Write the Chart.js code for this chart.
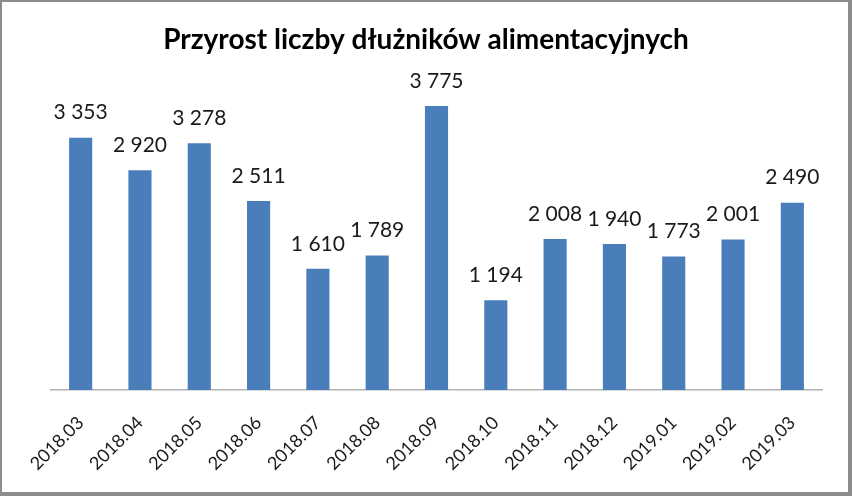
<!DOCTYPE html>
<html>
<head>
<meta charset="utf-8">
<script src="https://cdn.jsdelivr.net/npm/chart.js@4"></script>
<style>
  html, body { margin: 0; padding: 0; background: #fff; }
  #wrap { position: relative; width: 852px; height: 496px; }
  #c { position: absolute; left: 0; top: 0; }
  #frame { position: absolute; left: 0; top: 0; width: 852px; height: 496px; box-sizing: border-box;
           border-style: solid; border-color: #8c8c8c; border-width: 2px 4px 4px 2px; pointer-events: none; }
</style>
</head>
<body>
<div id="wrap">
  <canvas id="c" width="852" height="496"></canvas>
  <div id="frame"></div>
</div>
<script>
const categories = ["2018.03","2018.04","2018.05","2018.06","2018.07","2018.08","2018.09","2018.10","2018.11","2018.12","2019.01","2019.02","2019.03"];
const values = [3353, 2920, 3278, 2511, 1610, 1789, 3775, 1194, 2008, 1940, 1773, 2001, 2490];
const titleText = "Przyrost liczby dłużników alimentacyjnych";

function fmt(v) {
  return String(v).replace(/\B(?=(\d{3})+(?!\d))/g, " ");
}

const valueLabels = {
  id: 'valueLabels',
  afterDatasetsDraw(chart) {
    const ctx = chart.ctx;
    const meta = chart.getDatasetMeta(0);
    ctx.save();
    ctx.font = '21px Lato';
    ctx.fillStyle = '#1a1a1a';
    ctx.textAlign = 'center';
    ctx.textBaseline = 'middle';
    meta.data.forEach((bar, i) => {
      ctx.fillText(fmt(values[i]), bar.x, bar.y - 25);
    });
    ctx.restore();
  }
};

const chartTitle = {
  id: 'chartTitle',
  afterDraw(chart) {
    const ctx = chart.ctx;
    ctx.save();
    ctx.font = 'bold 28px Lato';
    ctx.fillStyle = '#000';
    ctx.textAlign = 'center';
    ctx.textBaseline = 'alphabetic';
    ctx.fillText(titleText, chart.width / 2, 49);
    ctx.restore();
  }
};

new Chart(document.getElementById('c'), {
  type: 'bar',
  data: {
    labels: categories,
    datasets: [{
      data: values,
      backgroundColor: '#4a7ebb',
      borderWidth: 0,
      categoryPercentage: 1.0,
      barPercentage: 0.39
    }]
  },
  options: {
    responsive: false,
    animation: false,
    layout: { padding: { left: 51, right: 30, top: 89, bottom: 0 } },
    plugins: {
      legend: { display: false },
      tooltip: { enabled: false },
      title: { display: false }
    },
    scales: {
      y: {
        display: false,
        min: 0,
        max: 4000
      },
      x: {
        grid: { display: false },
        border: { display: true, color: '#b3b3b3', width: 1.5 },
        ticks: {
          minRotation: 45,
          maxRotation: 45,
          color: '#1a1a1a',
          font: { family: 'Lato', size: 18 },
          padding: 14
        },
        afterFit(scale) { scale.height = 106; }
      }
    }
  },
  plugins: [valueLabels, chartTitle]
});
</script>
</body>
</html>
